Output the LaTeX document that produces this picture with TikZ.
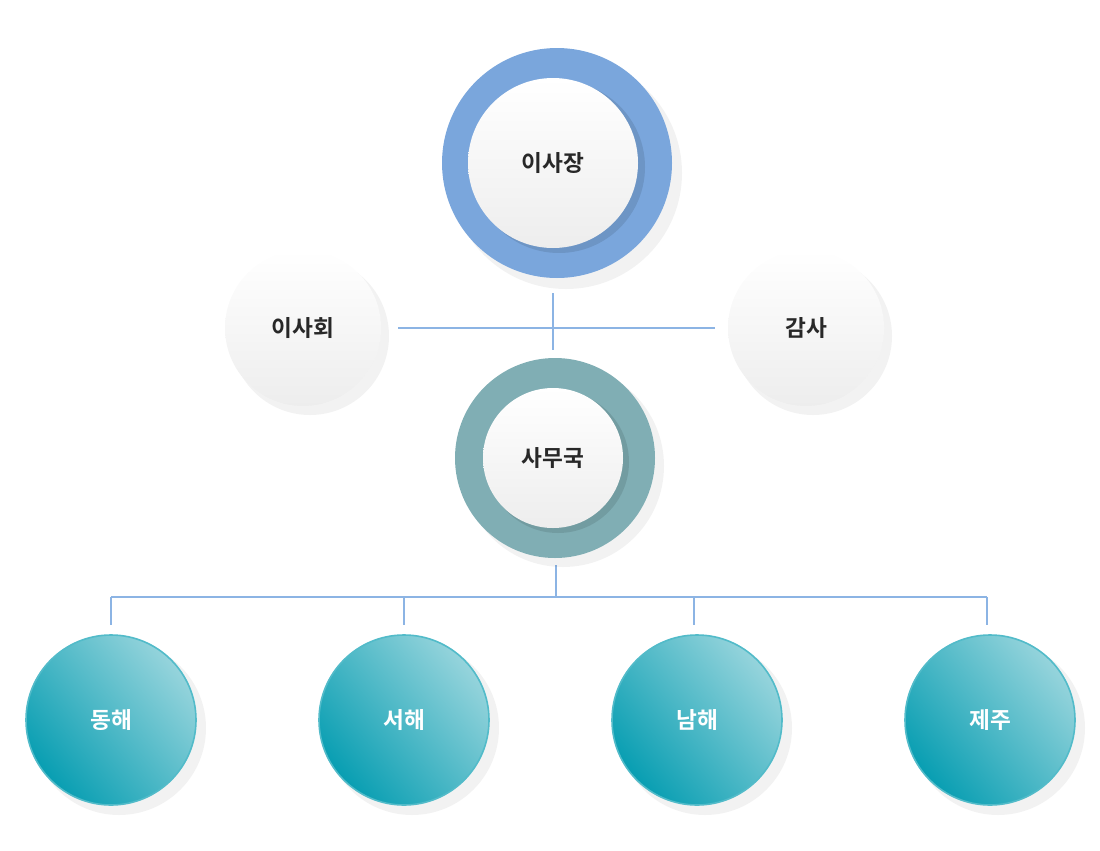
\documentclass[tikz,border=0pt]{standalone}
\usepackage{fontspec}
\setmainfont{Noto Sans CJK KR Bold}
\definecolor{lineblue}{RGB}{140,180,228}
\definecolor{topring}{RGB}{122,166,220}
\definecolor{midring}{RGB}{128,174,180}
\definecolor{tealdark}{RGB}{8,158,178}
\definecolor{teallight}{RGB}{150,212,220}
\definecolor{txt}{RGB}{40,40,40}
\tikzset{
  px/.style={x=0.75pt,y=-0.75pt},
  conn/.style={draw=lineblue,line width=1.2pt},
  sh/.style={fill=black,opacity=0.05},
  ring/.style={circle,minimum size=#1*1.5pt,inner sep=0pt},
  whitec/.style={circle,minimum size=#1*1.5pt,inner sep=0pt,top color=white,bottom color=black!7,text=txt,font=\fontsize{17}{17}\selectfont},
  tealc/.style={circle,minimum size=170*0.75pt,inner sep=0pt,draw=tealdark!70,line width=1.2pt,
     left color=tealdark,right color=teallight,shading angle=130,text=white,font=\fontsize{17}{17}\selectfont}
}
\begin{document}
\begin{tikzpicture}[px]
\useasboundingbox (0,0) rectangle (1100,850);
\coordinate (hl) at (398,328); \coordinate (hr) at (715,328);
\coordinate (vt) at (553,293); \coordinate (vb) at (553,350);
\draw[conn] (hl) -- (hr); \draw[conn] (vt) -- (vb);
\coordinate (st) at (556,565); \coordinate (sb) at (556,597);
\draw[conn] (st) -- (sb);
\coordinate (bl) at (111,597); \coordinate (br) at (987,597);
\draw[conn] (bl) -- (br);
\foreach \x/\n in {111/a,404/b,694/c,987/d}{
  \coordinate (t\n) at (\x,597); \coordinate (u\n) at (\x,625);
  \draw[conn] (t\n) -- (u\n);}
\fill[sh] (566,173) circle (116);
\fill[sh] (310,336) circle (79);
\fill[sh] (813,336) circle (79);
\fill[sh] (563,466) circle (101);
\foreach \x in {111,404,697,990}{\fill[sh] (\x+8,728) circle (87);}
\node[ring=115,fill=topring] (chairO) at (557,163) {};
\fill[black,opacity=0.1] (559,167) circle (86);
\node[whitec=85] (chair) at (553,163) {이사장};
\node[whitec=78] (board) at (303,328) {이사회};
\node[whitec=78] (audit) at (806,328) {감사};
\node[ring=100,fill=midring] (secO) at (555,458) {};
\fill[black,opacity=0.1] (558,462) circle (71);
\node[whitec=70] (sec) at (553,458) {사무국};
\node[tealc] (e) at (111,720) {동해};
\node[tealc] (w) at (404,720) {서해};
\node[tealc] (s) at (697,720) {남해};
\node[tealc] (j) at (990,720) {제주};
\end{tikzpicture}
\end{document}
